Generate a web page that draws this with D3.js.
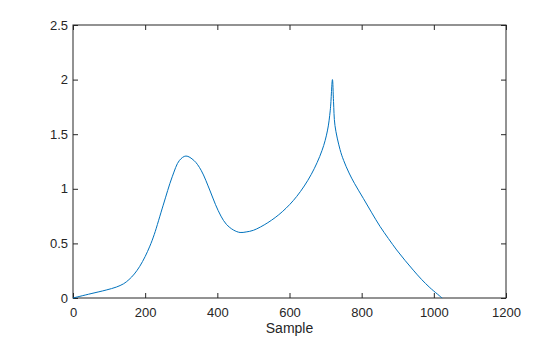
<!DOCTYPE html>
<html>
<head>
<meta charset="utf-8">
<style>
  body { margin: 0; background: #fff; }
  text { font-family: "Liberation Sans", Arial, Helvetica, sans-serif; fill: #262626; }
</style>
</head>
<body>
<svg width="560" height="337"></svg>
<script src="https://cdn.jsdelivr.net/npm/d3@7"></script>
<script>
  // samples
  const sampleX = [0, 50, 92, 120, 140, 155, 170, 185, 200, 213, 225, 250, 275, 295, 313, 335, 355, 380, 395, 410, 425, 445, 463, 480,
    500, 540, 580, 620, 660, 690, 705, 713, 719, 722, 726, 740, 750, 765, 780, 805, 828, 851, 874, 897, 920, 943, 966, 989, 1023];
  const sampleY = [0, 0.04, 0.073, 0.10, 0.13, 0.168, 0.22, 0.29, 0.38, 0.475, 0.58, 0.85, 1.11, 1.26, 1.30, 1.26, 1.17, 0.98, 0.855, 0.75, 0.675, 0.622, 0.60, 0.605,
    0.62, 0.69, 0.79, 0.93, 1.13, 1.35, 1.53, 1.72, 2.00, 1.80, 1.58, 1.36, 1.26, 1.145, 1.05, 0.91, 0.78, 0.655, 0.545, 0.44, 0.345, 0.255, 0.17, 0.095, 0];
  const xTicks = [0, 200, 400, 600, 800, 1000, 1200];
  const yTicks = [0, 0.5, 1, 1.5, 2, 2.5];

  const svg = d3.select("svg");
  const plotL = 73, plotR = 506, plotT = 25, plotB = 298;

  const x = d3.scaleLinear().domain([0, 1200]).range([plotL, plotR]);
  const y = d3.scaleLinear().domain([0, 2.5]).range([plotB, plotT]);

  const axisColor = "#262626";
  const tick = 5;

  // box
  svg.append("rect")
    .attr("x", plotL).attr("y", plotT)
    .attr("width", plotR - plotL).attr("height", plotB - plotT)
    .attr("fill", "none").attr("stroke", axisColor).attr("stroke-width", 1);

  // x axis (ticks inside, bottom and top)
  const gx = svg.append("g")
    .attr("transform", `translate(0,${plotB})`)
    .call(d3.axisBottom(x).tickValues(xTicks).tickSize(-tick).tickPadding(10).tickFormat(d3.format("d")));
  const gxTop = svg.append("g")
    .attr("transform", `translate(0,${plotT})`)
    .call(d3.axisTop(x).tickValues(xTicks).tickSize(-tick).tickFormat(""));

  const gy = svg.append("g")
    .attr("transform", `translate(${plotL},0)`)
    .call(d3.axisLeft(y).tickValues(yTicks).tickSize(-tick).tickPadding(5).tickFormat(d => d3.format("")(d)));
  const gyRight = svg.append("g")
    .attr("transform", `translate(${plotR},0)`)
    .call(d3.axisRight(y).tickValues(yTicks).tickSize(-tick).tickFormat(""));

  [gx, gxTop, gy, gyRight].forEach(g => {
    g.select(".domain").remove();
    g.selectAll("line").attr("stroke", axisColor);
    g.selectAll("text").attr("font-size", 13).attr("fill", axisColor)
      .attr("font-family", "'Liberation Sans', Arial, sans-serif");
  });

  // x label
  svg.append("text")
    .attr("x", (plotL + plotR) / 2)
    .attr("y", 333)
    .attr("text-anchor", "middle")
    .attr("font-size", 14)
    .text("Sample");

  // curve
  const pts = sampleX.map((v, i) => [v, sampleY[i]]);
  const line = d3.line()
    .x(d => x(d[0]))
    .y(d => y(d[1]))
    .curve(d3.curveCatmullRom.alpha(0.5));

  svg.append("path")
    .datum(pts)
    .attr("d", line)
    .attr("fill", "none")
    .attr("stroke", "#0072BD")
    .attr("stroke-width", 1);
</script>
</body>
</html>
